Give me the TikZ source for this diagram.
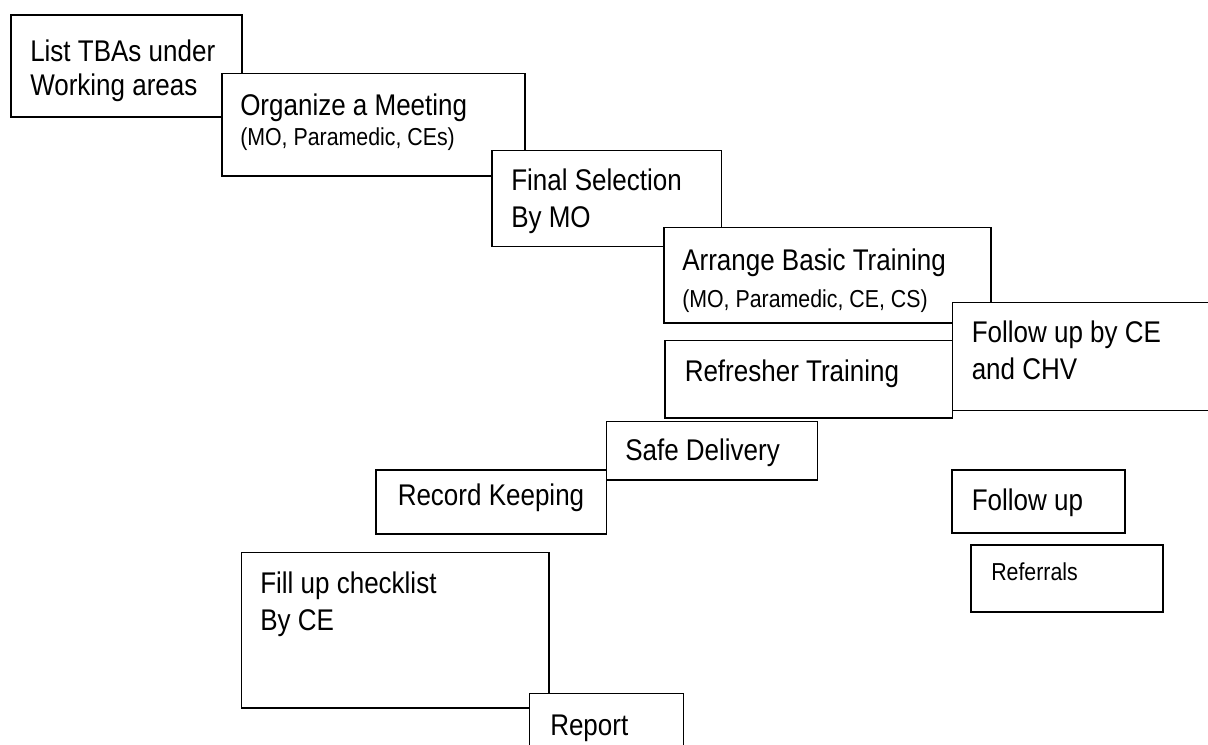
\documentclass[tikz,border=0pt]{standalone}
\usepackage{fontspec}
\usepackage{graphicx}
\setmainfont{Liberation Sans}
\newcommand{\vstretch}[1]{\scalebox{1}[1.15]{#1}}
\begin{document}
\begin{tikzpicture}[x=0.75pt,y=-0.75pt,
  box/.style={draw=black, fill=white, line width=1.3pt},
  big/.style={inner sep=0pt, anchor=base west, font=\fontsize{19.5pt}{23pt}\selectfont},
  small/.style={inner sep=0pt, anchor=base west, font=\fontsize{16pt}{19pt}\selectfont}]
\useasboundingbox (0,0) rectangle (1208,744);
\clip (0,0) rectangle (1208,744);
\fill[white] (0,0) rectangle (1208,744);
% boxes (later ones overlap earlier ones)
\draw[box] (11,15) rectangle (242,117) node[midway] (b1) {};
\draw[box] (222,73.5) rectangle (525,176) node[midway] (b2) {};
\draw[box] (492,150.5) rectangle (721.5,246.5) node[midway] (b3) {};
\draw[box] (664,227.5) rectangle (991,323) node[midway] (b4) {};
\draw[box] (952.5,302.5) rectangle (1220,410.5) node[midway] (b5) {};
\draw[box] (665,340.5) rectangle (952.5,418) node[midway] (b6) {};
\draw[box] (376,470) rectangle (606.5,534) node[midway] (b8) {};
\draw[box] (606.5,421.5) rectangle (817.5,480) node[midway] (b7) {};
\draw[box] (952,470) rectangle (1125,533) node[midway] (b9) {};
\draw[box] (971,545) rectangle (1163,612) node[midway] (b10) {};
\draw[box] (241.5,552.5) rectangle (549,708) node[midway] (b11) {};
\draw[box] (529.5,693.5) rectangle (683.5,760) node[midway] (b12) {};
% texts
\node[big] (t1a) at (30,61) {\vstretch{List TBAs under}};
\node[big] (t1b) at (30,95) {\vstretch{Working areas}};
\node[big] (t2a) at (240,115) {\vstretch{Organize a Meeting}};
\node[small] (t2b) at (240,145) {\vstretch{(MO, Paramedic, CEs)}};
\node[big] (t3a) at (511,190.5) {\vstretch{Final Selection}};
\node[big] (t3b) at (511,227) {\vstretch{By MO}};
\node[big] (t4a) at (682,270) {\vstretch{Arrange Basic Training}};
\node[small] (t4b) at (682,307) {\vstretch{(MO, Paramedic, CE, CS)}};
\node[big] (t5a) at (971.5,342.5) {\vstretch{Follow up by CE}};
\node[big] (t5b) at (971.5,379.5) {\vstretch{and CHV}};
\node[big] (t6) at (684.5,381.5) {\vstretch{Refresher Training}};
\node[big] (t7) at (625,460) {\vstretch{Safe Delivery}};
\node[big] (t8) at (397.5,505) {\vstretch{Record Keeping}};
\node[big] (t9) at (971.5,510) {\vstretch{Follow up}};
\node[small] (t10) at (991,580) {\vstretch{Referrals}};
\node[big] (t11a) at (260,593) {\vstretch{Fill up checklist}};
\node[big] (t11b) at (260,630) {\vstretch{By CE}};
\node[big] (t12) at (550,735) {\vstretch{Report}};
\end{tikzpicture}
\end{document}
